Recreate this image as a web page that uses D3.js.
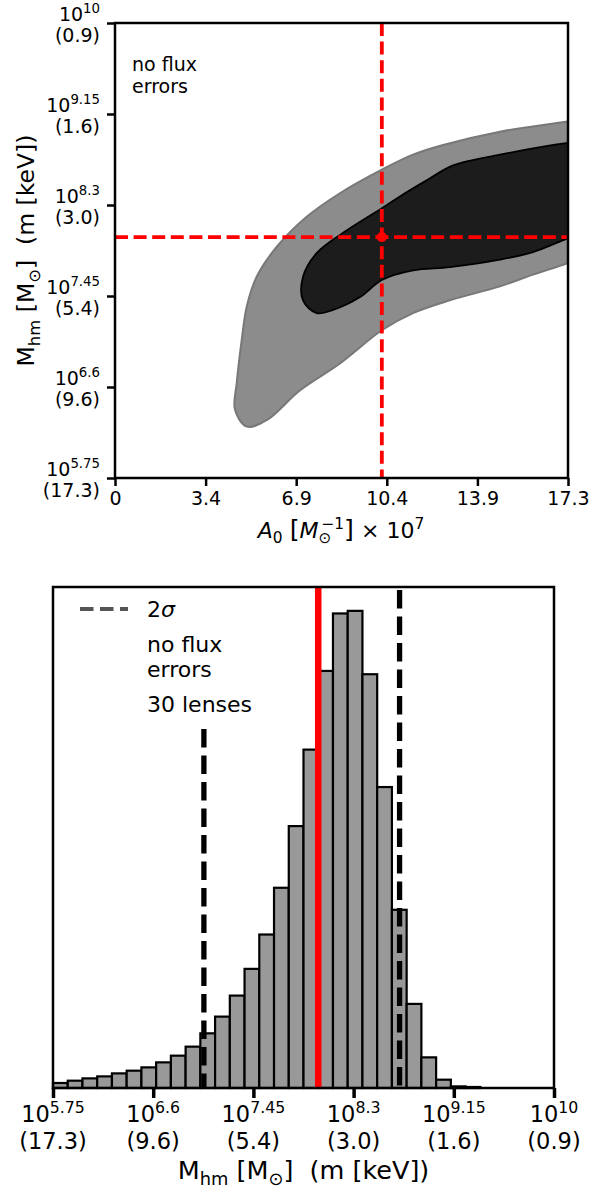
<!DOCTYPE html>
<html>
<head>
<meta charset="utf-8">
<style>
  html, body { margin: 0; padding: 0; background: #fff; }
  svg { display: block; font-family: 'DejaVu Sans', sans-serif; }
  text { white-space: pre; }
</style>
</head>
<body>
<svg id="chart" width="591" height="1190"></svg>
<script src="https://cdn.jsdelivr.net/npm/d3@7/dist/d3.min.js"></script>
<script>
// ---------- top panel: A0 vs M_hm posterior ----------
const logMTicks = [5.75, 6.6, 7.45, 8.3, 9.15, 10];
const logMExp = ["5.75", "6.6", "7.45", "8.3", "9.15", "10"];
const massKeV = ["(17.3)", "(9.6)", "(5.4)", "(3.0)", "(1.6)", "(0.9)"];
const a0Ticks = [0, 3.46, 6.92, 10.38, 13.84, 17.3];
const a0TickLabels = ["0", "3.4", "6.9", "10.4", "13.9", "17.3"];

// contour outlines as [A0, log10 Mhm]
const outer2s = [
  [18.2, 9.11], [17.3, 9.08], [14.70, 8.985], [12.53, 8.86], [11.38, 8.77],
  [10.19, 8.63], [8.59, 8.41], [7.32, 8.19], [6.18, 7.91], [5.41, 7.63],
  [5.03, 7.35], [4.84, 7.04], [4.65, 6.64], [4.58, 6.39], [5.03, 6.23],
  [5.79, 6.29], [7.07, 6.57], [8.59, 6.82], [10.19, 7.13], [11.38, 7.29],
  [12.79, 7.41], [14.70, 7.54], [15.96, 7.65], [17.3, 7.76], [18.2, 7.86]
];
const inner1s = [
  [18.2, 8.90], [17.3, 8.88], [14.70, 8.77], [12.91, 8.67], [11.90, 8.53],
  [10.88, 8.38], [10.19, 8.27], [8.71, 8.04], [7.70, 7.85], [7.18, 7.63],
  [7.18, 7.41], [7.70, 7.29], [8.33, 7.32], [9.36, 7.44], [10.19, 7.60],
  [11.38, 7.69], [12.79, 7.72], [14.70, 7.79], [15.96, 7.86], [17.3, 7.99],
  [18.2, 8.07]
];
const truthA0 = 10.19;
const truthLogM = 8.0;
const noteLines = ["no flux", "errors"];

// ---------- bottom panel: histogram of log10 M_hm ----------
const binStart = 5.75;
const binWidth = 0.125;
const counts = [50, 73, 96, 116, 146, 173, 206, 256, 323, 413, 546, 713, 923, 1190,
  1533, 2000, 2616, 3380, 4166, 4740, 4766, 4133, 3006, 1780, 840, 306, 83, 16, 10];
const bestLogM = 8.0;
const sigmaLines = [{ x: 7.03, top: 3585 }, { x: 8.69, top: 4975 }];
const legendLines = ["no flux", "errors", "30 lenses"];

const svg = d3.select('#chart');

// writes mathtext-ish runs into a <text>: kind n | i | sub | sup | big
function rich(sel, parts, size) {
  let shift = 0;
  parts.forEach(p => {
    const [t, k, dx] = p;
    let target = 0;
    if (k === 'sub') target = 0.24 * size;
    if (k === 'sup') target = -0.42 * size;
    const ts = sel.append('tspan').attr('dy', target - shift).text(t);
    if (dx) ts.attr('dx', dx);
    shift = target;
    if (k === 'sub' || k === 'sup') ts.attr('font-size', size * 0.7);
    if (k === 'big') ts.attr('font-size', size * 1.15);
    if (k === 'i') ts.attr('font-style', 'italic');
  });
}

// ===== top panel =====
const T = { left: 115, right: 568, top: 23, bottom: 478 };
const xA = d3.scaleLinear().domain([0, 17.3]).range([T.left, T.right]);
const yM = d3.scaleLinear().domain([5.75, 10]).range([T.bottom, T.top]);
const fTick = 19;

svg.append('clipPath').attr('id', 'clipTop').append('rect')
  .attr('x', T.left).attr('y', T.top)
  .attr('width', T.right - T.left).attr('height', T.bottom - T.top);

const contour = d3.line()
  .x(d => xA(d[0])).y(d => yM(d[1]))
  .curve(d3.curveCatmullRomClosed.alpha(0.5));

const gc = svg.append('g').attr('clip-path', 'url(#clipTop)');
gc.append('path').datum(outer2s).attr('d', contour)
  .attr('fill', '#8c8c8c').attr('stroke', '#787878').attr('stroke-width', 2);
gc.append('path').datum(inner1s).attr('d', contour)
  .attr('fill', '#1c1c1c').attr('stroke', '#000').attr('stroke-width', 1.8);

gc.append('line')
  .attr('x1', xA(truthA0)).attr('x2', xA(truthA0))
  .attr('y1', yM(10)).attr('y2', yM(5.75))
  .attr('stroke', 'red').attr('stroke-width', 3.8).attr('stroke-dasharray', '13,5.6');
gc.append('line')
  .attr('x1', xA(0)).attr('x2', xA(17.3))
  .attr('y1', yM(truthLogM)).attr('y2', yM(truthLogM))
  .attr('stroke', 'red').attr('stroke-width', 3.8).attr('stroke-dasharray', '13,5.6');
gc.append('circle').attr('cx', xA(truthA0)).attr('cy', yM(truthLogM)).attr('r', 5).attr('fill', 'red');

svg.append('rect')
  .attr('x', T.left).attr('y', T.top)
  .attr('width', T.right - T.left).attr('height', T.bottom - T.top)
  .attr('fill', 'none').attr('stroke', '#000').attr('stroke-width', 2.5);

// x axis
const axA = svg.append('g').attr('transform', `translate(0,${T.bottom})`)
  .call(d3.axisBottom(xA).tickValues(a0Ticks).tickSize(8).tickFormat((d, i) => a0TickLabels[i]));
axA.select('.domain').remove();
axA.selectAll('.tick line').attr('stroke-width', 2.5);
axA.selectAll('.tick text').attr('y', 27).attr('dy', 0)
  .attr('font-family', 'DejaVu Sans').attr('font-size', fTick).attr('fill', '#000');

// y axis with two-line labels
const axM = svg.append('g').attr('transform', `translate(${T.left},0)`)
  .call(d3.axisLeft(yM).tickValues(logMTicks).tickSize(8).tickFormat(''));
axM.select('.domain').remove();
axM.selectAll('.tick line').attr('stroke-width', 2.5);
logMTicks.forEach((v, i) => {
  const t1 = svg.append('text').attr('x', 100).attr('y', yM(v) - 2.5)
    .attr('text-anchor', 'end').attr('font-size', fTick);
  rich(t1, [["10", 'n'], [logMExp[i], 'sup']], fTick);
  svg.append('text').attr('x', 100).attr('y', yM(v) + 19)
    .attr('text-anchor', 'end').attr('font-size', fTick).text(massKeV[i]);
});

const xlabTop = svg.append('text').attr('x', 341).attr('y', 538)
  .attr('text-anchor', 'middle').attr('font-size', 22);
rich(xlabTop, [["A", 'i'], ["0", 'sub'], [" ", 'n'], ["[", 'big'], ["M", 'i'], ["⊙", 'sub'],
  ["−1", 'sup', -10], ["]", 'big'], [" × 10", 'n'], ["7", 'sup']], 22);

const ylabTop = svg.append('text')
  .attr('transform', `translate(34,${(T.top + T.bottom) / 2}) rotate(-90)`)
  .attr('text-anchor', 'middle').attr('font-size', 23.5);
rich(ylabTop, [["M", 'n'], ["hm", 'sub'], [" [M", 'n'], ["⊙", 'sub'], ["]  (m [keV])", 'n']], 23.5);

noteLines.forEach((s, i) => {
  svg.append('text').attr('x', 132).attr('y', 71 + i * 21.5)
    .attr('font-size', 19).text(s);
});

// ===== bottom panel =====
const B = { left: 53, right: 554, top: 587, bottom: 1088 };
const xH = d3.scaleLinear().domain([5.75, 10]).range([B.left, B.right]);
const yH = d3.scaleLinear().domain([0, d3.max(counts) * 1.05]).range([B.bottom, B.top]);
const fTickB = 22.5;

svg.append('g').selectAll('rect').data(counts).join('rect')
  .attr('x', (d, i) => xH(binStart + i * binWidth))
  .attr('width', (d, i) => xH(binStart + (i + 1) * binWidth) - xH(binStart + i * binWidth))
  .attr('y', d => yH(d))
  .attr('height', d => yH(0) - yH(d))
  .attr('fill', '#999999').attr('stroke', '#000').attr('stroke-width', 2.2);

svg.append('g').selectAll('line').data(sigmaLines).join('line')
  .attr('x1', d => xH(d.x)).attr('x2', d => xH(d.x))
  .attr('y1', d => yH(d.top)).attr('y2', yH(0))
  .attr('stroke', '#000').attr('stroke-width', 5.3).attr('stroke-dasharray', '18.5,8');

svg.append('line')
  .attr('x1', xH(bestLogM)).attr('x2', xH(bestLogM))
  .attr('y1', B.top).attr('y2', B.bottom)
  .attr('stroke', 'red').attr('stroke-width', 6.5);

svg.append('rect')
  .attr('x', B.left).attr('y', B.top)
  .attr('width', B.right - B.left).attr('height', B.bottom - B.top)
  .attr('fill', 'none').attr('stroke', '#000').attr('stroke-width', 2.5);

const axH = svg.append('g').attr('transform', `translate(0,${B.bottom})`)
  .call(d3.axisBottom(xH).tickValues(logMTicks).tickSize(10).tickFormat(''));
axH.select('.domain').remove();
axH.selectAll('.tick line').attr('stroke-width', 3.5);
logMTicks.forEach((v, i) => {
  const t1 = svg.append('text').attr('x', xH(v)).attr('y', 1122)
    .attr('text-anchor', 'middle').attr('font-size', fTickB);
  rich(t1, [["10", 'n'], [logMExp[i], 'sup']], fTickB);
  svg.append('text').attr('x', xH(v)).attr('y', 1149)
    .attr('text-anchor', 'middle').attr('font-size', fTickB).text(massKeV[i]);
});

const xlabBot = svg.append('text').attr('x', (B.left + B.right) / 2).attr('y', 1179)
  .attr('text-anchor', 'middle').attr('font-size', 25.5);
rich(xlabBot, [["M", 'n'], ["hm", 'sub'], [" [M", 'n'], ["⊙", 'sub'], ["]  (m [keV])", 'n']], 25.5);

// legend (no frame)
svg.append('line').attr('x1', 80).attr('x2', 128).attr('y1', 609).attr('y2', 609)
  .attr('stroke', '#555').attr('stroke-width', 4).attr('stroke-dasharray', '13.5,6.5');
const lg = svg.append('text').attr('x', 147).attr('y', 617).attr('font-size', 22);
rich(lg, [["2", 'n'], ["σ", 'i']], 22);
legendLines.forEach((s, i) => {
  svg.append('text').attr('x', 147).attr('y', [652, 677, 712][i])
    .attr('font-size', 22).text(s);
});
</script>
</body>
</html>
